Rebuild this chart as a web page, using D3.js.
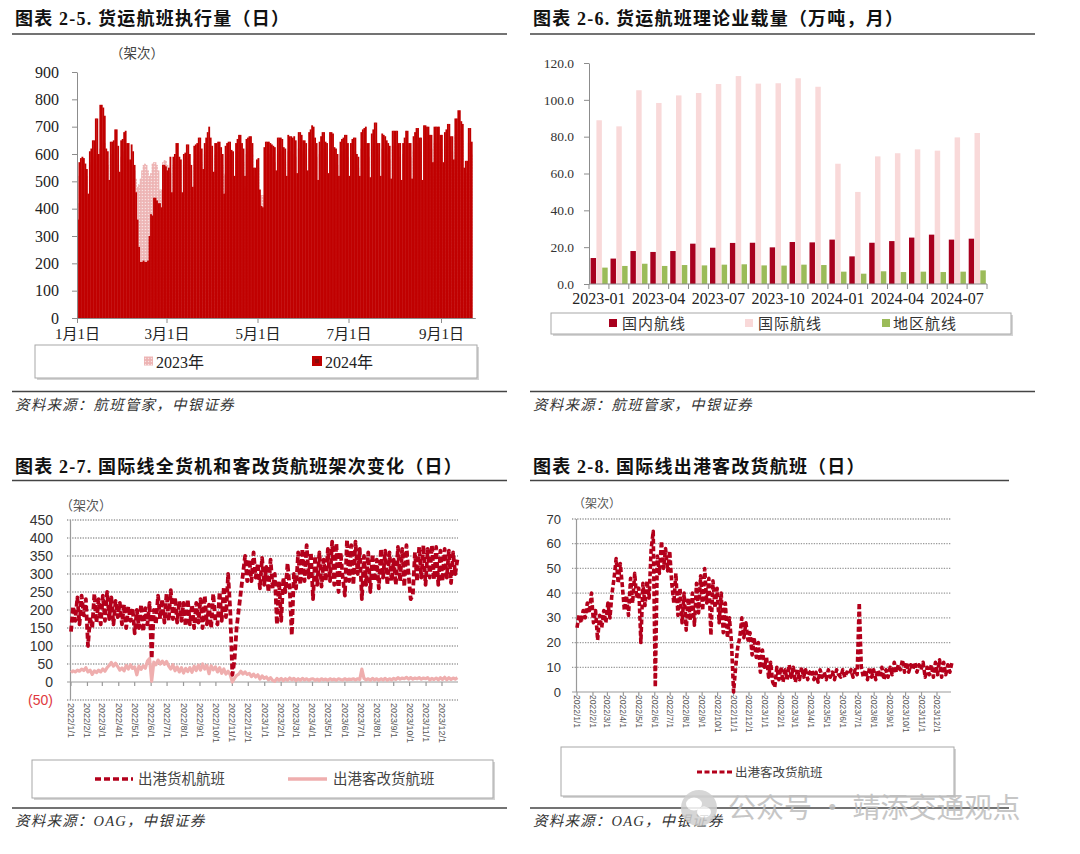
<!DOCTYPE html>
<html><head><meta charset="utf-8">
<script src="https://cdn.jsdelivr.net/npm/d3@7"></script>
<style>body{margin:0;background:#fff}svg{display:block}</style>
</head><body>
<svg id="chart" width="1080" height="854"></svg>
<script>
// ---------------- DATA ----------------
// Chart 2-5: daily cargo flights executed (from Jan 1), 2024 and 2023 (same day of year)
const flights2024 = [
360,570,585,590,585,565,545, 455,610,620,650,650,730,730, 600,780,780,770,740,620,610,
505,645,645,650,690,690,630, 535,650,655,680,685,640,640, 580,635,610,560,460,360,260,
205,205,210,205,205,210,300, 380,375,440,440,430,420,420, 405,560,560,555,540,550,590,
460,590,600,640,640,590,580, 460,600,605,635,635,600,560, 480,630,635,640,660,660,620,
545,640,660,680,700,660,630, 535,640,640,645,645,625,600, 455,630,640,645,645,615,610,
520,640,655,670,670,640,620, 520,655,660,665,665,640,550, 550,580,585,470,410,405,625,
645,645,645,640,635,630,625, 540,660,660,660,655,625,620, 520,670,665,665,660,665,650,
530,680,680,670,650,650,640, 540,680,690,705,700,660,640, 505,645,665,680,680,645,640,
530,680,680,675,625,620,600, 520,645,655,660,670,670,640, 520,640,655,660,660,600,590,
520,680,690,695,700,640,640, 515,675,690,715,715,640,640, 520,675,670,665,650,640,630,
510,685,685,685,685,640,640, 505,640,660,685,685,640,640, 510,665,680,695,695,660,660,
505,705,705,700,700,670,670, 570,700,700,700,700,670,670, 570,680,690,710,710,665,665,
580,730,730,760,760,720,710, 550,575,575,695,695,645];
const flights2023 = [
420,520,540,545,540,530,520, 430,560,570,580,590,600,560, 520,620,640,650,640,600,560,
470,590,600,610,620,580,560, 480,590,600,610,620,590,570, 500,560,550,540,510,480,490,
510,540,560,565,560,540,520, 530,565,570,570,560,540,470, 470,570,578,575,560,540,530,
450,560,570,580,580,560,540, 440,560,570,590,590,570,540, 440,580,590,600,610,600,570,
500,600,610,620,630,610,590, 500,600,610,610,600,590,560, 525,530,590,600,600,580,560,
480,590,600,610,610,590,570, 480,600,610,620,620,600,520, 500,540,550,450,450,450,440,
560,590,600,600,590,580,570, 470,600,610,610,600,580,570, 470,610,610,610,600,600,590,
480,620,620,610,600,600,590, 480,620,630,640,640,610,590, 460,600,610,620,620,600,590,
470,620,620,610,580,570,560, 470,600,610,610,620,610,590, 470,590,600,610,610,560,550,
470,620,630,640,640,600,590, 470,620,630,650,650,600,590, 470,620,620,610,600,590,580,
460,630,630,630,630,590,590, 460,600,610,630,630,590,590, 460,610,620,640,640,610,610,
460,650,650,640,640,620,620, 520,640,640,640,640,620,620, 520,630,640,650,650,610,610,
530,670,670,690,690,660,650, 500,530,530,640,640,600];
const xLabels1 = ["1月1日","3月1日","5月1日","7月1日","9月1日"];
const xTickMonths1 = [0,2,4,6,8];
const yTicks1 = [0,100,200,300,400,500,600,700,800,900];
const seriesNames1 = ["2023年","2024年"];

// Chart 2-6: monthly theoretical payload (10k tonnes)
const months2 = ["2023-01","2023-02","2023-03","2023-04","2023-05","2023-06","2023-07","2023-08","2023-09","2023-10","2023-11","2023-12",
                 "2024-01","2024-02","2024-03","2024-04","2024-05","2024-06","2024-07","2024-08"];
const domestic = [14.1,13.8,17.9,17.4,17.9,21.9,19.7,22.3,22.4,19.9,22.8,22.6,24.1,15.0,22.4,23.3,25.2,26.8,24.1,24.6];
const international = [88.9,85.6,105.2,98.3,102.4,103.7,108.6,112.9,108.8,109.0,111.7,107.1,65.3,50.0,69.3,71.0,73.1,72.4,79.6,82.0];
const regional = [8.9,9.8,11.0,9.8,10.3,10.1,10.5,10.7,10.1,10.0,10.5,10.3,6.7,5.6,6.9,6.5,6.7,6.5,6.7,7.4];
const xLabels2 = ["2023-01","2023-04","2023-07","2023-10","2024-01","2024-04","2024-07"];
const yTicks2 = [0,20,40,60,80,100,120];
const seriesNames2 = ["国内航线","国际航线","地区航线"];

// Chart 2-7 / 2-8: international departures, sampled every 4 days from 2022-01-01
const sampleStepDays = 4;
const freighter = [
140,210,170,235,160,240,185,230, 100,180,150,245,165,230,160, 240,170,250,175,235,160,225,180,
220,160,215,150,210,170,205, 135,200,150,215,140,205,160,220, 65,200,160,240,175,230,165,245,
170,255,175,235,165,225,170, 220,155,230,160,215,150,220,165, 230,150,240,160,215,150,245,170,
160,250,170,265,180,300,200, 20,60,150,200,250,300,350,280, 340,280,360,290,330,260,345,270,
320,250,340,260,300,160,280, 170,290,250,330,260,130,300, 260,360,270,370,280,380,290,360,
230,350,270,360,265,340,280,370, 280,390,270,385,250,360,290, 240,395,280,380,270,390,300,370,
230,350,270,360,250,355,280,340, 260,370,290,365,270,360,280, 340,270,375,280,370,265,380,300,
230,240,360,280,375,290,380,270, 370,290,380,285,375,270,365, 280,370,290,365,275,360,300,340];
const paxFreighter = [
26,31,28,33,30,36,32,40, 28,33,21,31,26,33,28, 36,30,40,46,54,44,52,43,
33,39,31,46,36,48,38, 42,20,44,35,45,38,58,65, 2, 55,48,61,50,58,49,57,
44,36,48,31,42,28,40, 25,38,29,40,27,44,32,47, 33,50,36,46,23,45,34,42,
28,40,24,36,22,30,20, 0,10,18,22,30,22,28,21, 24,15,22,14,20,8,17,10,
14,6,12,4,2,10,5, 10,4,9,5,11,6,10, 4,9,5,10,6,9,5,8,
9,5,8,4,9,6,8,5, 9,6,8,5,9,7,6, 9,6,8,7,9,6,9,7, 36,
10,6,9,5,10,6,9, 5,9,6,10,5,9,6, 10,7,12,8,11,9,13,8,
12,8,11,9,12,8,11,9, 12,6,10,7,11,6,12, 7,13,6,12,7,11,8,12];
const monthLabels = ["2022/1/1","2022/2/1","2022/3/1","2022/4/1","2022/5/1","2022/6/1","2022/7/1","2022/8/1","2022/9/1","2022/10/1","2022/11/1","2022/12/1",
                     "2023/1/1","2023/2/1","2023/3/1","2023/4/1","2023/5/1","2023/6/1","2023/7/1","2023/8/1","2023/9/1","2023/10/1","2023/11/1","2023/12/1"];
const yTicks3 = [-50,0,50,100,150,200,250,300,350,400,450];
const yTicks4 = [0,10,20,30,40,50,60,70];
const seriesNames3 = ["出港货机航班","出港客改货航班"];

// ---------------- DRAW ----------------
const svg = d3.select("#chart");
const SERIF = "'Liberation Serif','Times New Roman','Noto Sans CJK SC',serif";
const CJK = "'Noto Sans CJK SC','Liberation Sans',sans-serif";
const SANS = "'Liberation Sans',Arial,'Noto Sans CJK SC',sans-serif";
const RED24 = "#C00000", PINK23 = "#EDB3B3";
const DOM = "#A8001E", INTL = "#F9D9D9", REG = "#9BBB59";
const DASHRED = "#B3001B", PAXPINK = "#EFAEAE";

const defs = svg.append("defs");
const pat = defs.append("pattern").attr("id","dots23").attr("width",3).attr("height",3).attr("patternUnits","userSpaceOnUse");
pat.append("rect").attr("width",3).attr("height",3).attr("fill",PINK23);
pat.append("circle").attr("cx",1.5).attr("cy",1.5).attr("r",0.75).attr("fill","#F8E2E2");

function frame(x0, x1, titleY, ruleY, bottomY, srcY, title, src) {
  svg.append("text").attr("x", x0 + 3).attr("y", titleY).text(title)
    .attr("font-family", SERIF).attr("font-weight", "bold").attr("font-size", 18)
    .attr("letter-spacing", 1.2).attr("fill", "#111");
  svg.append("line").attr("x1", x0).attr("x2", x1).attr("y1", ruleY).attr("y2", ruleY)
    .attr("stroke", "#444").attr("stroke-width", 1.5);
  svg.append("line").attr("x1", x0).attr("x2", x1).attr("y1", bottomY).attr("y2", bottomY)
    .attr("stroke", "#444").attr("stroke-width", 1.5);
  svg.append("text").attr("x", x0 + 3).attr("y", srcY).text(src)
    .attr("font-family", SERIF).attr("font-style", "italic").attr("font-size", 14.5)
    .attr("letter-spacing", 1.2).attr("fill", "#333");
}
frame(12, 507, 25, 34, 391.5, 410, "图表 2-5. 货运航班执行量（日）", "资料来源：航班管家，中银证券");
frame(530, 1035, 25, 34, 391.5, 410, "图表 2-6. 货运航班理论业载量（万吨，月）", "资料来源：航班管家，中银证券");
frame(12, 507, 473, 480.5, 808, 826, "图表 2-7. 国际线全货机和客改货航班架次变化（日）", "资料来源：OAG，中银证券");
frame(530, 1009, 473, 480.5, 808, 826, "图表 2-8. 国际线出港客改货航班（日）", "资料来源：OAG，中银证券");

function legendBox(g, x, y, w, h) {
  g.append("rect").attr("x", x + 2).attr("y", y + 2).attr("width", w).attr("height", h).attr("fill", "#d4d4d4");
  g.append("rect").attr("x", x).attr("y", y).attr("width", w).attr("height", h)
    .attr("fill", "#fff").attr("stroke", "#a8a8a8").attr("stroke-width", 1);
}

// ===== Chart 2-5 =====
(function () {
  const g = svg.append("g");
  const start = new Date(2024, 0, 1);
  const x = d3.scaleTime().domain([start, new Date(2024, 8, 24)]).range([77, 475.3]);
  const y = d3.scaleLinear().domain([0, 900]).range([318, 72]);
  const day = i => d3.timeDay.offset(start, i);
  function bars(data, fill) {
    g.append("g").selectAll("rect").data(data).join("rect")
      .attr("x", (d, i) => x(day(i)))
      .attr("width", (d, i) => x(day(i + 1)) - x(day(i)) + 0.35)
      .attr("y", d => y(d)).attr("height", d => y(0) - y(d))
      .attr("fill", fill);
  }
  bars(flights2023, "url(#dots23)");
  bars(flights2024, RED24);
  const ya = g.append("g").attr("transform", "translate(77,0)")
    .call(d3.axisLeft(y).tickValues(yTicks1).tickSize(5).tickSizeOuter(0).tickPadding(13));
  const xa = g.append("g").attr("transform", "translate(0,318)")
    .call(d3.axisBottom(x).tickValues(xTickMonths1.map(m => new Date(2024, m, 1)))
      .tickFormat((d, i) => xLabels1[i]).tickSize(5).tickSizeOuter(0).tickPadding(5));
  [ya, xa].forEach(a => {
    a.selectAll("path,line").attr("stroke", "#8c8c8c");
    a.selectAll("text").attr("font-family", SERIF).attr("font-size", 16).attr("fill", "#222");
  });
  xa.selectAll("text").attr("font-size", 15);
  g.append("text").attr("x", 110).attr("y", 58).text("（架次）")
    .attr("font-family", CJK).attr("font-size", 13.5).attr("fill", "#444");
  legendBox(g, 35, 345, 442, 33);
  g.append("rect").attr("x", 144).attr("y", 356.5).attr("width", 9).attr("height", 9).attr("fill", "url(#dots23)");
  g.append("text").attr("x", 156).attr("y", 367.5).text(seriesNames1[0])
    .attr("font-family", SERIF).attr("font-size", 16).attr("fill", "#222");
  g.append("rect").attr("x", 312).attr("y", 356).attr("width", 10).attr("height", 10).attr("fill", RED24);
  g.append("rect").attr("x", 315).attr("y", 359).attr("width", 4).attr("height", 4).attr("fill", "#8a0a0a");
  g.append("text").attr("x", 325).attr("y", 367.5).text(seriesNames1[1])
    .attr("font-family", SERIF).attr("font-size", 16).attr("fill", "#222");
})();

// ===== Chart 2-6 =====
(function () {
  const g = svg.append("g");
  const x = d3.scaleBand().domain(months2).range([589, 987]);
  const keys = ["domestic", "international", "regional"];
  const xi = d3.scaleBand().domain(keys).range([1.6, x.bandwidth() - 1.2]).paddingInner(0.06);
  const y = d3.scaleLinear().domain([0, 120]).range([284, 63]);
  const rows = months2.map((m, i) => ({ m, domestic: domestic[i], international: international[i], regional: regional[i] }));
  const colors = { domestic: DOM, international: INTL, regional: REG };
  keys.forEach(k => {
    g.append("g").selectAll("rect").data(rows).join("rect")
      .attr("x", d => x(d.m) + xi(k)).attr("width", xi.bandwidth())
      .attr("y", d => y(d[k])).attr("height", d => y(0) - y(d[k]))
      .attr("fill", colors[k]);
  });
  const ya = g.append("g").attr("transform", "translate(589,0)")
    .call(d3.axisLeft(y).tickValues(yTicks2).tickFormat(d3.format(".1f")).tickSize(5).tickSizeOuter(0).tickPadding(10));
  ya.selectAll("path,line").attr("stroke", "#8c8c8c");
  ya.selectAll("text").attr("font-family", SERIF).attr("font-size", 13.5).attr("fill", "#333");
  g.append("line").attr("x1", 589).attr("x2", 987).attr("y1", 284).attr("y2", 284).attr("stroke", "#8c8c8c");
  g.append("g").selectAll("line").data(months2.concat(["end"])).join("line")
    .attr("x1", d => d === "end" ? 987 : x(d)).attr("x2", d => d === "end" ? 987 : x(d))
    .attr("y1", 284).attr("y2", 289).attr("stroke", "#8c8c8c");
  g.append("g").selectAll("text").data(xLabels2).join("text")
    .attr("x", d => x(d) + x.bandwidth() / 2).attr("y", 304).attr("text-anchor", "middle").text(d => d)
    .attr("font-family", SERIF).attr("font-size", 16).attr("fill", "#222");
  legendBox(g, 551, 313, 460, 21);
  const lx = [609, 745, 882], tx = [622, 758, 893];
  keys.forEach((k, i) => {
    g.append("rect").attr("x", lx[i]).attr("y", 319).attr("width", 8).attr("height", 8).attr("fill", colors[k]);
    g.append("text").attr("x", tx[i]).attr("y", 329).text(seriesNames2[i])
      .attr("font-family", CJK).attr("font-size", 15).attr("letter-spacing", 1).attr("fill", "#333");
  });
})();

// ===== shared for 2-7 / 2-8 =====
const parseLbl = d3.timeParse("%Y/%m/%d");
const tickDates = monthLabels.map(parseLbl);
const seriesStart = new Date(2022, 0, 1);
const sampleDate = i => d3.timeDay.offset(seriesStart, i * sampleStepDays);

function dailyPanel(opts) {
  const g = svg.append("g");
  const x = d3.scaleTime().domain([tickDates[0], tickDates[tickDates.length - 1]]).range(opts.xr);
  const y = d3.scaleLinear().domain(opts.yd).range(opts.yr);
  g.append("g").selectAll("line").data(opts.ticks.filter(v => v !== 0)).join("line")
    .attr("x1", opts.gx0).attr("x2", opts.xEnd).attr("y1", d => y(d)).attr("y2", d => y(d))
    .attr("stroke", "#9a9a9a").attr("stroke-width", 1.3).attr("stroke-dasharray", "1.3,1.3");
  g.append("line").attr("x1", opts.gx0).attr("x2", opts.xEnd).attr("y1", y(0)).attr("y2", y(0)).attr("stroke", "#9a9a9a").attr("stroke-width", 1.2);
  g.append("line").attr("x1", opts.xr[0] - 0.5).attr("x2", opts.xr[0] - 0.5).attr("y1", y(opts.yd[1])).attr("y2", y(opts.yd[0])).attr("stroke", "#9a9a9a").attr("stroke-width", 1.2);
  g.append("g").selectAll("line").data(tickDates).join("line")
    .attr("x1", d => x(d)).attr("x2", d => x(d)).attr("y1", y(0)).attr("y2", y(0) + 4)
    .attr("stroke", "#9a9a9a").attr("stroke-width", 1.2);
  g.append("g").selectAll("text").data(opts.ticks).join("text")
    .attr("x", opts.labelX).attr("y", d => y(d)).attr("dy", "0.35em").attr("text-anchor", "end")
    .text(d => d < 0 ? "(" + (-d) + ")" : d)
    .attr("font-family", SANS).attr("font-size", opts.yFont)
    .attr("fill", d => d < 0 ? "#E0393E" : "#333");
  g.append("g").selectAll("text").data(tickDates).join("text")
    .attr("transform", (d, i) => `translate(${x(d) - 3},${opts.xLabelY}) rotate(90)`)
    .text((d, i) => monthLabels[i])
    .attr("font-family", SANS).attr("font-size", opts.xFont).attr("fill", "#555");
  g.append("text").attr("x", opts.unit[0]).attr("y", opts.unit[1]).text("（架次）")
    .attr("font-family", CJK).attr("font-size", opts.unit[2]).attr("fill", "#555");
  const line = d3.line().x((d, i) => x(sampleDate(i))).y(d => y(d)).curve(d3.curveLinear);
  opts.series.forEach(s => {
    g.append("path").datum(s.data).attr("d", line).attr("fill", "none")
      .attr("stroke", s.color).attr("stroke-width", s.width)
      .attr("stroke-dasharray", s.dash || null).attr("stroke-linejoin", "round");
  });
  return g;
}

// ===== Chart 2-7 =====
(function () {
  const g = dailyPanel({
    xr: [71, 442], yd: [-50, 450], yr: [700, 520], gx0: 67, xEnd: 458,
    ticks: yTicks3, labelX: 53, yFont: 14, xLabelY: 703, xFont: 9,
    unit: [60, 510, 13],
    series: [
      { data: paxFreighter, color: PAXPINK, width: 3.2 },
      { data: freighter, color: DASHRED, width: 3.8, dash: "6,3" }
    ]
  });
  legendBox(g, 32, 760, 461, 38);
  g.append("line").attr("x1", 95).attr("x2", 133).attr("y1", 779).attr("y2", 779)
    .attr("stroke", DASHRED).attr("stroke-width", 3.5).attr("stroke-dasharray", "6,3");
  g.append("text").attr("x", 138).attr("y", 784).text(seriesNames3[0])
    .attr("font-family", CJK).attr("font-size", 14.5).attr("fill", "#444");
  g.append("line").attr("x1", 288).attr("x2", 327).attr("y1", 779).attr("y2", 779)
    .attr("stroke", PAXPINK).attr("stroke-width", 3.5);
  g.append("text").attr("x", 333).attr("y", 784).text(seriesNames3[1])
    .attr("font-family", CJK).attr("font-size", 14.5).attr("fill", "#444");
})();

// ===== Chart 2-8 =====
(function () {
  const g = dailyPanel({
    xr: [577, 937], yd: [0, 70], yr: [692, 519], gx0: 572, xEnd: 951,
    ticks: yTicks4, labelX: 561, yFont: 13, xLabelY: 695, xFont: 8.5,
    unit: [573, 508, 12],
    series: [
      { data: paxFreighter, color: DASHRED, width: 3.6, dash: "5,2.5" }
    ]
  });
  legendBox(g, 561, 747, 393, 49);
  g.append("line").attr("x1", 697).attr("x2", 732).attr("y1", 772).attr("y2", 772)
    .attr("stroke", DASHRED).attr("stroke-width", 3.2).attr("stroke-dasharray", "5,2.5");
  g.append("text").attr("x", 735).attr("y", 776.5).text(seriesNames3[1])
    .attr("font-family", CJK).attr("font-size", 12.5).attr("fill", "#444");
})();

// ===== watermark =====
(function () {
  const w = svg.append("g").attr("opacity", 0.85);
  w.append("circle").attr("cx", 699).attr("cy", 808).attr("r", 18).attr("fill", "#cfcfcf");
  w.append("ellipse").attr("cx", 694).attr("cy", 804).attr("rx", 8).attr("ry", 6.5).attr("fill", "#fff");
  w.append("ellipse").attr("cx", 704).attr("cy", 812).attr("rx", 7).attr("ry", 5.5).attr("fill", "#fff");
  w.append("text").attr("x", 728).attr("y", 818).text("公众号 · 靖添交通观点")
    .attr("font-family", CJK).attr("font-size", 28).attr("fill", "#bdbdbd");
})();
</script>
</body></html>
